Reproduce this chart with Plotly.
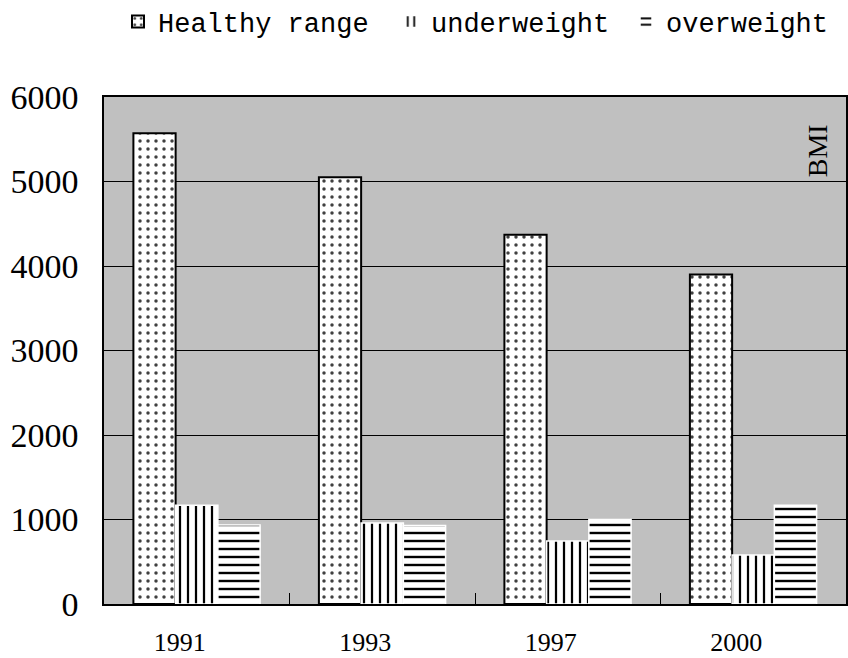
import plotly.graph_objects as go

years = ["1991", "1993", "1997", "2000"]
healthy = [5570, 5050, 4370, 3900]
underweight = [1170, 960, 745, 580]
overweight = [935, 930, 1000, 1170]
series_names = ["Healthy range", "underweight", "overweight"]
y_ticks = [0, 1000, 2000, 3000, 4000, 5000, 6000]

fig = go.Figure()
fig.add_trace(go.Bar(
    x=years, y=healthy, name=series_names[0], legend="legend",
    marker=dict(color="white", line=dict(color="black", width=2),
                pattern=dict(shape=".", size=8, solidity=0.15, fgcolor="#404040",
                             bgcolor="white", fillmode="replace")),
))
fig.add_trace(go.Bar(
    x=years, y=underweight, name=series_names[1], legend="legend2",
    marker=dict(color="white", line=dict(color="white", width=1.5),
                pattern=dict(shape="|", size=8, solidity=0.28, fgcolor="black",
                             bgcolor="white", fillmode="replace")),
))
fig.add_trace(go.Bar(
    x=years, y=overweight, name=series_names[2], legend="legend3",
    marker=dict(color="white", line=dict(color="white", width=1.5),
                pattern=dict(shape="-", size=8, solidity=0.3, fgcolor="black",
                             bgcolor="white", fillmode="replace")),
))

legend_font = dict(family="Liberation Mono", size=27, color="black")


def make_legend(px_left):
    return dict(
        orientation="h", xref="container", yref="container",
        x=px_left / 848, y=1 - 22 / 658, xanchor="left", yanchor="middle",
        font=legend_font, bgcolor="rgba(0,0,0,0)", borderwidth=0,
    )


fig.update_layout(
    width=848, height=658,
    margin=dict(l=104, r=0, t=97, b=54),
    paper_bgcolor="white",
    plot_bgcolor="#C0C0C0",
    barmode="group",
    bargap=0.317,
    bargroupgap=0,
    showlegend=True,
    legend=make_legend(118),
    legend2=make_legend(391),
    legend3=make_legend(626),
    xaxis=dict(
        type="category", categoryorder="array", categoryarray=years,
        tickson="boundaries", ticks="inside", ticklen=11, tickwidth=1, tickcolor="black",
        showline=True, linecolor="black", linewidth=1.5, mirror=True,
        showgrid=False,
        tickfont=dict(family="Liberation Serif", size=26, color="black"),
        ticklabelshift=-17, ticklabelstandoff=14,
    ),
    yaxis=dict(
        range=[0, 6000], tickvals=y_ticks, ticktext=[str(v) for v in y_ticks],
        showgrid=True, gridcolor="black", gridwidth=1,
        showline=True, linecolor="black", linewidth=1.5, mirror=True,
        ticks="", zeroline=False,
        tickfont=dict(family="Liberation Serif", size=34, color="black"),
        ticklabelstandoff=17,
    ),
    annotations=[dict(
        text="BMI", xref="paper", yref="paper", x=0.985, y=0.95,
        showarrow=False, textangle=-90,
        font=dict(family="Liberation Serif", size=28, color="black"),
    )],
)

fig.write_html("out.html", config={"displayModeBar": False},
               post_script="document.body.style.margin='0px';")
